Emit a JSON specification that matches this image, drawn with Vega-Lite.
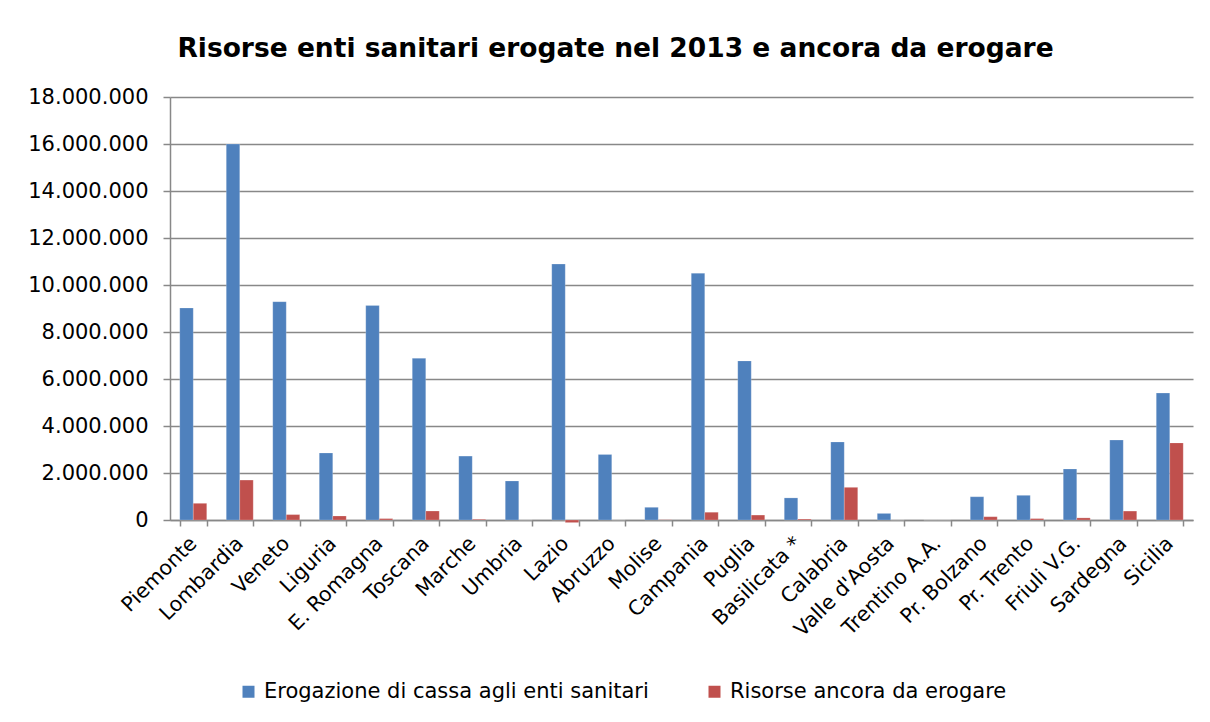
{
  "$schema": "https://vega.github.io/schema/vega-lite/v6.json",
  "width": 1023,
  "height": 423,
  "autosize": {"type": "none"},
  "padding": {"left": 170, "top": 97, "right": 17, "bottom": 202},
  "background": "white",
  "title": {
    "text": "Risorse enti sanitari erogate nel 2013 e ancora da erogare",
    "anchor": "middle",
    "dx": -66,
    "offset": 24,
    "font": "DejaVu Sans",
    "fontSize": 26.5,
    "fontWeight": "bold",
    "color": "#000000"
  },
  "config": {
    "locale": {"number": {"decimal": ",", "thousands": ".", "grouping": [3], "currency": ["€", ""]}},
    "view": {"stroke": null},
    "axis": {"labelFont": "DejaVu Sans", "labelColor": "#000000", "domainColor": "#888888", "tickColor": "#888888", "domainWidth": 1.5, "tickWidth": 1.5}
  },
  "data": {
    "values": [
      {"regione": "Piemonte", "serie": "Erogazione di cassa agli enti sanitari", "valore": 9020000},
      {"regione": "Piemonte", "serie": "Risorse ancora da erogare", "valore": 710000},
      {"regione": "Lombardia", "serie": "Erogazione di cassa agli enti sanitari", "valore": 16000000},
      {"regione": "Lombardia", "serie": "Risorse ancora da erogare", "valore": 1700000},
      {"regione": "Veneto", "serie": "Erogazione di cassa agli enti sanitari", "valore": 9290000},
      {"regione": "Veneto", "serie": "Risorse ancora da erogare", "valore": 230000},
      {"regione": "Liguria", "serie": "Erogazione di cassa agli enti sanitari", "valore": 2850000},
      {"regione": "Liguria", "serie": "Risorse ancora da erogare", "valore": 170000},
      {"regione": "E. Romagna", "serie": "Erogazione di cassa agli enti sanitari", "valore": 9130000},
      {"regione": "E. Romagna", "serie": "Risorse ancora da erogare", "valore": 60000},
      {"regione": "Toscana", "serie": "Erogazione di cassa agli enti sanitari", "valore": 6880000},
      {"regione": "Toscana", "serie": "Risorse ancora da erogare", "valore": 380000},
      {"regione": "Marche", "serie": "Erogazione di cassa agli enti sanitari", "valore": 2720000},
      {"regione": "Marche", "serie": "Risorse ancora da erogare", "valore": 30000},
      {"regione": "Umbria", "serie": "Erogazione di cassa agli enti sanitari", "valore": 1660000},
      {"regione": "Umbria", "serie": "Risorse ancora da erogare", "valore": 0},
      {"regione": "Lazio", "serie": "Erogazione di cassa agli enti sanitari", "valore": 10890000},
      {"regione": "Lazio", "serie": "Risorse ancora da erogare", "valore": -110000},
      {"regione": "Abruzzo", "serie": "Erogazione di cassa agli enti sanitari", "valore": 2790000},
      {"regione": "Abruzzo", "serie": "Risorse ancora da erogare", "valore": 0},
      {"regione": "Molise", "serie": "Erogazione di cassa agli enti sanitari", "valore": 540000},
      {"regione": "Molise", "serie": "Risorse ancora da erogare", "valore": 10000},
      {"regione": "Campania", "serie": "Erogazione di cassa agli enti sanitari", "valore": 10500000},
      {"regione": "Campania", "serie": "Risorse ancora da erogare", "valore": 330000},
      {"regione": "Puglia", "serie": "Erogazione di cassa agli enti sanitari", "valore": 6770000},
      {"regione": "Puglia", "serie": "Risorse ancora da erogare", "valore": 210000},
      {"regione": "Basilicata *", "serie": "Erogazione di cassa agli enti sanitari", "valore": 940000},
      {"regione": "Basilicata *", "serie": "Risorse ancora da erogare", "valore": 40000},
      {"regione": "Calabria", "serie": "Erogazione di cassa agli enti sanitari", "valore": 3320000},
      {"regione": "Calabria", "serie": "Risorse ancora da erogare", "valore": 1390000},
      {"regione": "Valle d'Aosta", "serie": "Erogazione di cassa agli enti sanitari", "valore": 280000},
      {"regione": "Valle d'Aosta", "serie": "Risorse ancora da erogare", "valore": 0},
      {"regione": "Trentino A.A.", "serie": "Erogazione di cassa agli enti sanitari", "valore": 0},
      {"regione": "Trentino A.A.", "serie": "Risorse ancora da erogare", "valore": 0},
      {"regione": "Pr. Bolzano", "serie": "Erogazione di cassa agli enti sanitari", "valore": 990000},
      {"regione": "Pr. Bolzano", "serie": "Risorse ancora da erogare", "valore": 140000},
      {"regione": "Pr. Trento", "serie": "Erogazione di cassa agli enti sanitari", "valore": 1050000},
      {"regione": "Pr. Trento", "serie": "Risorse ancora da erogare", "valore": 60000},
      {"regione": "Friuli V.G.", "serie": "Erogazione di cassa agli enti sanitari", "valore": 2170000},
      {"regione": "Friuli V.G.", "serie": "Risorse ancora da erogare", "valore": 90000},
      {"regione": "Sardegna", "serie": "Erogazione di cassa agli enti sanitari", "valore": 3400000},
      {"regione": "Sardegna", "serie": "Risorse ancora da erogare", "valore": 380000},
      {"regione": "Sicilia", "serie": "Erogazione di cassa agli enti sanitari", "valore": 5400000},
      {"regione": "Sicilia", "serie": "Risorse ancora da erogare", "valore": 3280000}
    ]
  },
  "mark": {"type": "bar", "stroke": "#ffffff", "strokeOpacity": 0.4, "strokeWidth": 0.5},
  "encoding": {
    "x": {
      "field": "regione",
      "type": "nominal",
      "sort": null,
      "scale": {"paddingInner": 0.42, "paddingOuter": 0.21},
      "axis": {
        "title": null,
        "labelAngle": -45,
        "labelAlign": "right",
        "labelBaseline": "middle",
        "labelFontSize": 20.5,
        "labelPadding": 14,
        "tickBand": "extent",
        "tickSize": 6,
        "grid": false,
        "domainColor": "#888888"
      }
    },
    "xOffset": {"field": "serie", "type": "nominal", "sort": ["Erogazione di cassa agli enti sanitari", "Risorse ancora da erogare"]},
    "y": {
      "field": "valore",
      "type": "quantitative",
      "scale": {"domain": [0, 18000000], "nice": false},
      "axis": {
        "title": null,
        "values": [0, 2000000, 4000000, 6000000, 8000000, 10000000, 12000000, 14000000, 16000000, 18000000],
        "format": ",d",
        "labelFontSize": 21,
        "labelPadding": 15,
        "tickSize": 7,
        "grid": true,
        "gridColor": "#888888",
        "gridWidth": 1.5
      }
    },
    "color": {
      "field": "serie",
      "type": "nominal",
      "scale": {"domain": ["Erogazione di cassa agli enti sanitari", "Risorse ancora da erogare"], "range": ["#4F81BD", "#C0504D"]},
      "legend": {
        "title": null,
        "orient": "none",
        "direction": "horizontal",
        "legendX": 68,
        "legendY": 584,
        "symbolType": "square",
        "symbolSize": 144,
        "symbolStrokeWidth": 0,
        "labelFont": "DejaVu Sans",
        "labelFontSize": 21,
        "labelColor": "#000000",
        "labelOffset": 5,
        "columnPadding": 55,
        "labelLimit": 600
      }
    }
  }
}
